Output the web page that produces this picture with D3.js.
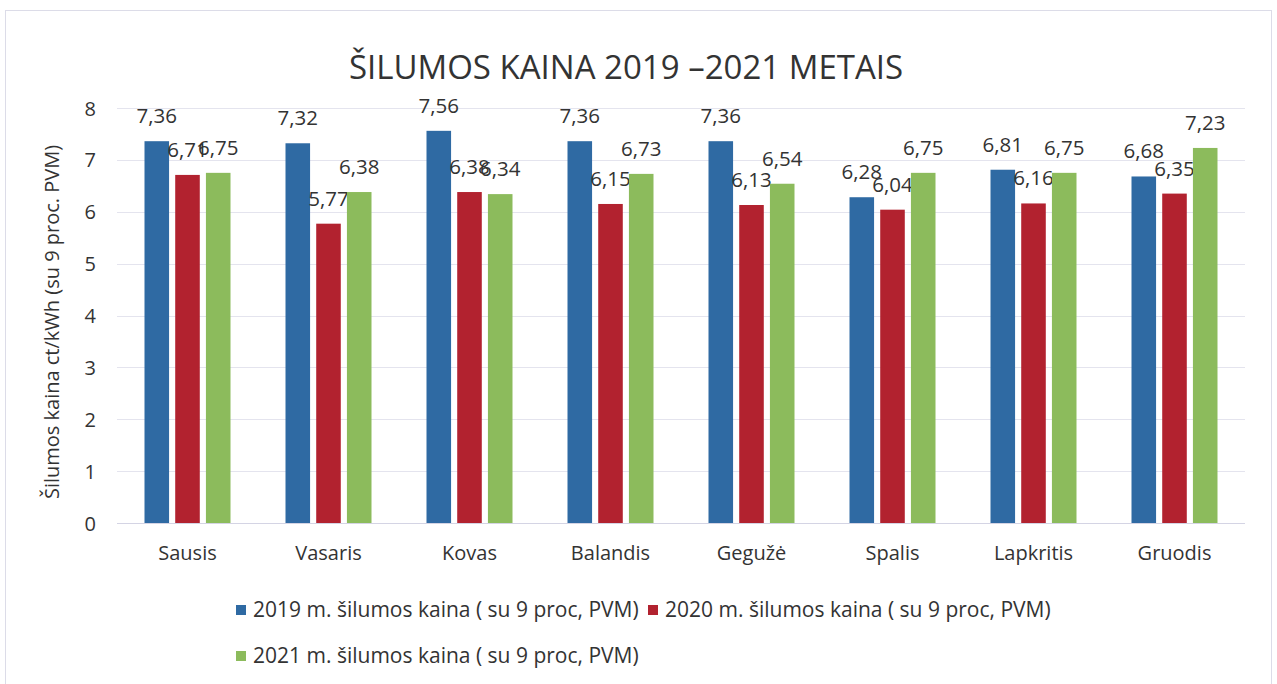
<!DOCTYPE html>
<html>
<head>
<meta charset="utf-8">
<script src="https://cdn.jsdelivr.net/npm/d3@7"></script>
<style>
  html, body { margin: 0; padding: 0; background: #fff; }
  svg { display: block; }
  text { font-family: "Open Sans", "Noto Sans", sans-serif; fill: #333; }
</style>
</head>
<body>
<svg id="chart" width="1277" height="684"></svg>
<script>
const categories = ["Sausis", "Vasaris", "Kovas", "Balandis", "Gegužė", "Spalis", "Lapkritis", "Gruodis"];
const seriesNames = [
  "2019 m. šilumos kaina ( su 9 proc, PVM)",
  "2020 m. šilumos kaina ( su 9 proc, PVM)",
  "2021 m. šilumos kaina ( su 9 proc, PVM)"
];
const values2019 = [7.36, 7.32, 7.56, 7.36, 7.36, 6.28, 6.81, 6.68];
const values2020 = [6.71, 5.77, 6.38, 6.15, 6.13, 6.04, 6.16, 6.35];
const values2021 = [6.75, 6.38, 6.34, 6.73, 6.54, 6.75, 6.75, 7.23];
const yTicks = [0, 1, 2, 3, 4, 5, 6, 7, 8];
const colors = ["#2f6aa3", "#b2222f", "#8cbb5c"];
const titleText = "ŠILUMOS KAINA 2019 –2021 METAIS";
const yTitle = "Šilumos kaina ct/kWh (su 9 proc. PVM)";

(function () {
const series = [values2019, values2020, values2021];

const svg = d3.select("#chart");
const pLeft = 117, pRight = 1245, pTop = 108, pBottom = 523;

// chart border
svg.append("rect").attr("x", 5.5).attr("y", 10.5).attr("width", 1266).attr("height", 680)
  .attr("fill", "#fff").attr("stroke", "#dcdce8").attr("stroke-width", 1);

const x = d3.scaleBand().domain(categories).range([pLeft, pRight]).paddingInner(0).paddingOuter(0);
const bandPad = 27.5;
const xs = d3.scaleBand().domain(d3.range(series.length))
  .range([bandPad, x.bandwidth() - bandPad]).paddingInner(0.2).paddingOuter(0);
const y = d3.scaleLinear().domain([0, 8]).range([pBottom, pTop]);

// gridlines
svg.append("g").selectAll("line").data(yTicks).join("line")
  .attr("x1", pLeft).attr("x2", pRight)
  .attr("y1", d => Math.round(y(d)) + 0.5).attr("y2", d => Math.round(y(d)) + 0.5)
  .attr("stroke", d => d === 0 ? "#d4d4e4" : "#e4e4ee").attr("stroke-width", 1);

// y axis labels
const yAxis = d3.axisLeft(y).tickValues(yTicks).tickSize(0).tickPadding(0).tickFormat(d3.format("d"));
const gy = svg.append("g").attr("transform", `translate(${pLeft - 21},0)`).call(yAxis);
gy.select(".domain").remove();
gy.selectAll("text").style("font-size", "20px").attr("fill", "#333").attr("dy", "0.35em");

// x axis labels
const xAxis = d3.axisBottom(x).tickSize(0).tickPadding(0);
const gx = svg.append("g").attr("transform", `translate(0,${pBottom + 20})`).call(xAxis);
gx.select(".domain").remove();
gx.selectAll("text").style("font-size", "20px").attr("fill", "#333").attr("dy", "0.85em");

// bars
series.forEach((vals, si) => {
  const g = svg.append("g");
  g.selectAll("rect").data(vals).join("rect")
    .attr("x", (d, i) => x(categories[i]) + xs(si))
    .attr("width", xs.bandwidth())
    .attr("y", d => y(d))
    .attr("height", d => y(0) - y(d))
    .attr("fill", colors[si]);
  g.selectAll("text").data(vals).join("text")
    .attr("x", (d, i) => x(categories[i]) + xs(si) + xs.bandwidth() / 2)
    .attr("y", d => y(d) - 18)
    .attr("text-anchor", "middle")
    .style("font-size", "20.5px")
    .text(d => d.toFixed(2).replace(".", ","));
});

// title
svg.append("text").attr("x", 626).attr("y", 79).attr("text-anchor", "middle")
  .style("font-size", "33px").text(titleText);

// y title
svg.append("text").attr("transform", `translate(59,${(107 + 537) / 2}) rotate(-90)`)
  .attr("text-anchor", "middle").style("font-size", "20px").text(yTitle);

// legend
const legendPos = [[236, 610], [648, 610], [236, 656]];
const lg = svg.append("g").selectAll("g").data(seriesNames).join("g")
  .attr("transform", (d, i) => `translate(${legendPos[i][0]},${legendPos[i][1]})`);
lg.append("rect").attr("x", 0).attr("y", -5).attr("width", 10).attr("height", 10)
  .attr("fill", (d, i) => colors[i]);
lg.append("text").attr("x", 17).attr("y", 0).attr("dy", "0.35em")
  .style("font-size", "21px").text(d => d);
})();
</script>
</body>
</html>
